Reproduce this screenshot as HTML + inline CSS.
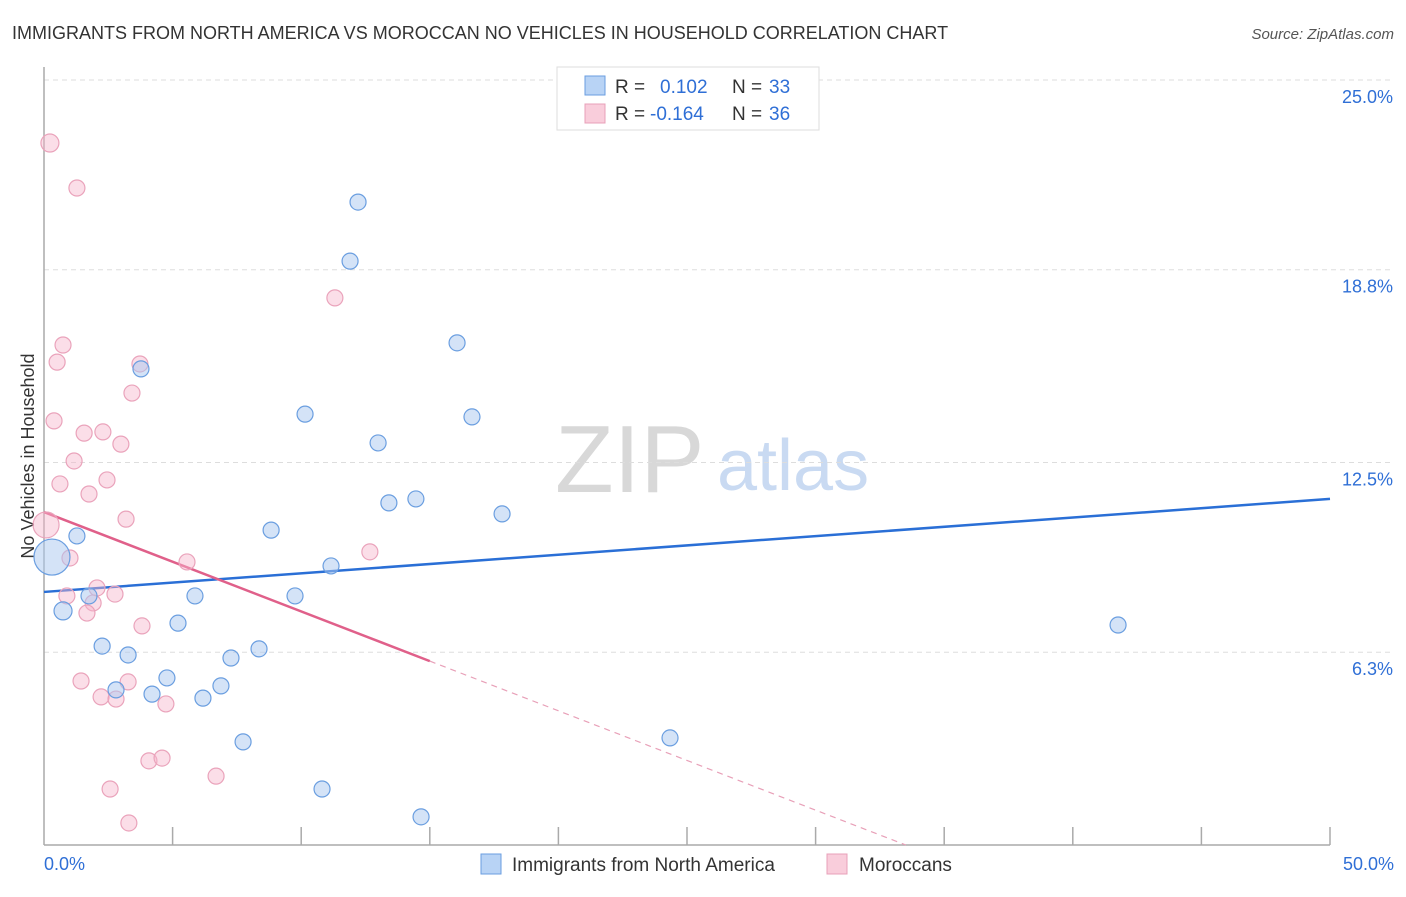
<!DOCTYPE html>
<html><head><meta charset="utf-8"><style>
body{margin:0;background:#fff;font-family:"Liberation Sans",sans-serif;}
svg text{font-family:"Liberation Sans",sans-serif;}
</style></head><body>
<svg id="chart" width="1406" height="892" viewBox="0 0 1406 892" xmlns="http://www.w3.org/2000/svg">
<text x="12" y="39" font-size="18" fill="#333">IMMIGRANTS FROM NORTH AMERICA VS MOROCCAN NO VEHICLES IN HOUSEHOLD CORRELATION CHART</text>
<text x="1394" y="39" font-size="15" fill="#555" font-style="italic" text-anchor="end">Source: ZipAtlas.com</text>
<g>
<text x="555" y="492" font-size="96" fill="#d8d8d8" font-family="Liberation Serif">ZIP</text>
<text x="717" y="490" font-size="72" fill="#c9daf2">atlas</text>
</g>
<g id="grid"></g>
<g id="axes"></g>
<text transform="translate(34,456) rotate(-90)" font-size="18" fill="#333" text-anchor="middle">No Vehicles in Household</text>
<g id="trend"></g>
<g id="pts"></g>
<g>
<rect x="557" y="67" width="262" height="63" fill="#fff" stroke="#ddd"/>
<rect x="585" y="76" width="20" height="19" fill="#b8d3f5" stroke="#6a9ee0"/>
<text x="615" y="93" font-size="19" fill="#333">R = </text><text x="660" y="93" font-size="19" fill="#2f6fd6">0.102</text>
<text x="732" y="93" font-size="19" fill="#333">N = </text><text x="769" y="93" font-size="19" fill="#2f6fd6">33</text>
<rect x="585" y="104" width="20" height="19" fill="#f9cddb" stroke="#e8a0b8"/>
<text x="615" y="120" font-size="19" fill="#333">R = </text><text x="650" y="120" font-size="19" fill="#2f6fd6">-0.164</text>
<text x="732" y="120" font-size="19" fill="#333">N = </text><text x="769" y="120" font-size="19" fill="#2f6fd6">36</text>
</g>
<g>
<rect x="481" y="854" width="20" height="20" fill="#b8d3f5" stroke="#6a9ee0"/>
<text x="512" y="871" font-size="19" fill="#333">Immigrants from North America</text>
<rect x="827" y="854" width="20" height="20" fill="#f9cddb" stroke="#e8a0b8"/>
<text x="859" y="871" font-size="19" fill="#333">Moroccans</text>
</g>
</svg>
<script>
const yTicks=[25.0,18.8,12.5,6.3];
const yTickLabels=["25.0%","18.8%","12.5%","6.3%"];
const xTickLabels=["0.0%","50.0%"];
const blueX=[12.21,11.90,16.06,3.77,10.15,16.64,12.99,13.41,14.46,17.81,8.83,1.28,11.16,0.31,1.75,5.87,9.76,0.74,5.21,2.26,3.27,7.27,8.36,4.78,2.80,4.20,6.88,6.18,7.74,24.34,10.81,14.66,41.76];
const blueY=[21.01,19.08,16.41,15.56,14.08,13.99,13.14,11.18,11.31,10.82,10.29,10.10,9.12,9.41,8.14,8.14,8.14,7.65,7.25,6.50,6.21,6.11,6.41,5.46,5.07,4.93,5.20,4.80,3.37,3.50,1.83,0.92,7.19];
const blueR=[8,8,8,8,8,8,8,8,8,8,8,8,8,18,8,8,8,9,8,8,8,8,8,8,8,8,8,8,8,8,8,8,8];
const pinkX=[0.23,1.28,11.31,0.74,0.51,3.73,3.42,0.39,1.56,2.29,2.99,1.17,0.62,1.75,2.45,3.19,0.08,5.56,12.67,1.01,2.06,0.89,2.76,1.91,1.67,3.81,1.44,3.27,2.22,2.80,4.74,4.08,4.59,6.69,2.57,3.30];
const pinkY=[22.94,21.47,17.88,16.34,15.78,15.72,14.77,13.86,13.46,13.50,13.10,12.55,11.80,11.47,11.93,10.65,10.46,9.25,9.58,9.38,8.40,8.14,8.20,7.91,7.58,7.16,5.36,5.33,4.84,4.77,4.61,2.75,2.84,2.25,1.83,0.72];
const pinkR=[9,8,8,8,8,8,8,8,8,8,8,8,8,8,8,8,13,8,8,8,8,8,8,8,8,8,8,8,8,8,8,8,8,8,8,8];
const blueTrend=[8.27,11.31];
const pinkTrend=[10.88,-0.3247];
const NS="http://www.w3.org/2000/svg";
const X=v=>44+v*25.72, Y=v=>845-v*30.6;
function mk(t,a,p){const e=document.createElementNS(NS,t);for(const k in a)e.setAttribute(k,a[k]);p.appendChild(e);return e;}
const grid=document.getElementById('grid'),axes=document.getElementById('axes');
yTicks.forEach((v,i)=>{
 const l=mk('line',{x1:44,x2:1394,y1:Y(v),y2:Y(v),stroke:'#ddd','stroke-dasharray':'5,4'},grid);
 
 
 const t=mk('text',{x:1393,y:Y(v)+23,'font-size':18,fill:'#2f6fd6','text-anchor':'end'},grid);
 t.textContent=yTickLabels[i];
 
 
});
mk('line',{x1:44,x2:44,y1:67,y2:845,stroke:'#aaa','stroke-width':1.5},axes);
mk('line',{x1:44,x2:1330,y1:845,y2:845,stroke:'#aaa','stroke-width':1.5},axes);
for(let i=1;i<=10;i++){const tk=mk('line',{x1:X(i*5),x2:X(i*5),y1:827,y2:845,stroke:'#aaa','stroke-width':1.5},axes);
 
 }
let t0=mk('text',{x:44,y:870,'font-size':18,fill:'#2f6fd6'},axes);t0.textContent=xTickLabels[0];


let t1=mk('text',{x:1394,y:870,'font-size':18,fill:'#2f6fd6','text-anchor':'end'},axes);t1.textContent=xTickLabels[1];


const pts=document.getElementById('pts');
pinkX.forEach((x,i)=>{const c=mk('circle',{cx:X(x),cy:Y(pinkY[i]),r:pinkR[i],fill:'rgba(246,182,204,0.45)',stroke:'#eaa3bb','stroke-width':1.2},pts);
 
 });
blueX.forEach((x,i)=>{const c=mk('circle',{cx:X(x),cy:Y(blueY[i]),r:blueR[i],fill:'rgba(170,200,240,0.5)',stroke:'#6a9ee0','stroke-width':1.2},pts);
 
 });
const tr=document.getElementById('trend');
const bl=mk('line',{x1:X(0),y1:Y(blueTrend[0]),x2:X(50),y2:Y(blueTrend[1]),stroke:'#2a6fd6','stroke-width':2.5},tr);


const pEnd=15, pZero=-pinkTrend[0]/pinkTrend[1];
const ps=mk('line',{x1:X(0),y1:Y(pinkTrend[0]),x2:X(pEnd),y2:Y(pinkTrend[0]+pinkTrend[1]*pEnd),stroke:'#e0608a','stroke-width':2.5},tr);


const pd=mk('line',{x1:X(pEnd),y1:Y(pinkTrend[0]+pinkTrend[1]*pEnd),x2:X(pZero),y2:Y(0),stroke:'#e8a0b8','stroke-width':1.2,'stroke-dasharray':'6,5'},tr);


</script>
</body></html>
